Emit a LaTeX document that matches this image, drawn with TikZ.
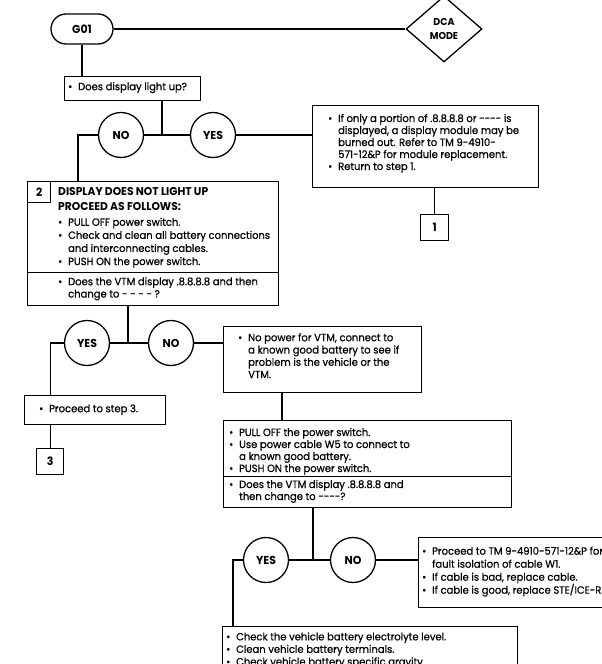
\documentclass[tikz,border=0pt]{standalone}
\usepackage{fontspec}
\setmainfont{Poppins}[FakeStretch=0.95, UprightFeatures={FakeBold=0.6}]
\usetikzlibrary{shapes.geometric}
\newcommand\bul{\makebox[10pt][l]{\textbullet}}
\newcommand\ind{\hspace*{10pt}}
\newcommand\dsh{{-}{-}{-}{-}}
\begin{document}
\begin{tikzpicture}[x=1pt,y=-1pt,
  every node/.style={inner sep=0pt},
  frame/.style={draw, line width=1.3pt, rectangle, anchor=north west},
  lbl/.style={font=\bfseries\fontsize{11.5}{13}\selectfont},
  txt/.style={anchor=north west, align=left, font=\fontsize{10.5}{12.3}\selectfont},
  dec/.style={draw, circle, line width=1.3pt, minimum size=45pt, font=\bfseries\fontsize{11.5}{13}\selectfont},
  con/.style={line width=1.3pt},
]
\useasboundingbox (0,0) rectangle (602,664);
% terminals
\node[draw, line width=1.3pt, rounded corners=15pt, minimum width=62pt, minimum height=30pt, lbl] (g01) at (82,29) {G01};
\node[draw, diamond, line width=1.3pt, minimum width=76pt, minimum height=66pt, align=center, font=\bfseries\fontsize{10}{13.5}\selectfont] (dca) at (444,29) {DCA\\MODE};
% frames
\node[frame, minimum width=136pt, minimum height=24pt] (q1) at (64,76) {};
\node[frame, minimum width=226pt, minimum height=82pt] (s1) at (312,105) {};
\node[frame, minimum width=28pt, minimum height=26pt, lbl, anchor=north west] (box1) at (420,214) {1};
\node[frame, minimum width=251pt, minimum height=91pt] (b2a) at (27,181) {};
\node[frame, minimum width=251pt, minimum height=33pt] (b2b) at (27,272) {};
\node[frame, minimum width=23pt, minimum height=21pt, lbl] (n2) at (27,181) {2};
\node[frame, minimum width=141pt, minimum height=29pt] (p3) at (24,395) {};
\node[frame, minimum width=27pt, minimum height=26pt, lbl] (box3) at (36,448) {3};
\node[frame, minimum width=198pt, minimum height=66pt] (np) at (223,326) {};
\node[frame, minimum width=288pt, minimum height=56pt] (pa) at (223,420) {};
\node[frame, minimum width=288pt, minimum height=31pt] (pb) at (223,476) {};
\node[frame, minimum width=200pt, minimum height=70pt] (tm) at (418,537) {};
\node[frame, minimum width=295pt, minimum height=60pt] (bb) at (222,626) {};
% texts
\node[txt] (tq1) at (68,81.4) {\strut\bul Does display light up?};
\node[txt, font=\fontsize{10.5}{12}\selectfont] (ts1) at (328,113.4) {\strut\bul If only a portion of .8.8.8.8 or \dsh{} is\\
\ind displayed, a display module may be\\
\ind burned out. Refer to TM 9-4910-\\
\ind 571-12\&P for module replacement.\\
\bul Return to step 1.};
\node[txt, font=\bfseries\fontsize{11.3}{14.5}\selectfont] (tb2h) at (58,185.4) {\strut DISPLAY DOES NOT LIGHT UP\\PROCEED AS FOLLOWS:};
\node[txt, font=\fontsize{10.5}{13.1}\selectfont] (tb2a) at (58,216.4) {\strut\bul PULL OFF power switch.\\
\bul Check and clean all battery connections\\
\ind and interconnecting cables.\\
\bul PUSH ON the power switch.};
\node[txt] (tb2b) at (58,276.4) {\strut\bul Does the VTM display .8.8.8.8 and then\\
\ind change to - - - - ?};
\node[txt] (tp3) at (39,403.4) {\strut\bul Proceed to step 3.};
\node[txt] (tnp) at (238,332.4) {\strut\bul No power for VTM, connect to\\
\ind a known good battery to see if\\
\ind problem is the vehicle or the\\
\ind VTM.};
\node[txt, font=\fontsize{10.5}{12}\selectfont] (tpa) at (229,427.4) {\strut\bul PULL OFF the power switch.\\
\bul Use power cable W5 to connect to\\
\ind a known good battery.\\
\bul PUSH ON the power switch.};
\node[txt, font=\fontsize{10.5}{12}\selectfont] (tpb) at (229,479.4) {\strut\bul Does the VTM display .8.8.8.8 and\\
\ind then change to \dsh?};
\node[txt, font=\fontsize{10.5}{13}\selectfont] (ttm) at (422,545.4) {\strut\bul Proceed to TM 9-4910-571-12\&P for\\
\ind fault isolation of cable W1.\\
\bul If cable is bad, replace cable.\\
\bul If cable is good, replace STE/ICE-R.};
\node[txt, font=\fontsize{10.5}{12.5}\selectfont] (tbb) at (226,631.4) {\strut\bul Check the vehicle battery electrolyte level.\\
\bul Clean vehicle battery terminals.\\
\bul Check vehicle battery specific gravity.};
% decisions
\node[dec] (no1) at (121,135) {NO};
\node[dec] (yes1) at (213,135) {YES};
\node[dec] (yes2) at (87,343) {YES};
\node[dec] (no2) at (171,343) {NO};
\node[dec] (yes3) at (266,560) {YES};
\node[dec] (no3) at (353,560) {NO};
% coordinates
\coordinate (j1) at (162,135);
\coordinate (b2in) at (78,181);
\coordinate (j2) at (128,343);
\coordinate (c282) at (282,400);
\coordinate (j3) at (313,560);
\coordinate (bbin) at (233,626);
% connectors
\draw[con] (g01.east) -- (dca.west);
\draw[con] (g01.south) -- (g01.south |- q1.north);
\draw[con] (q1.south -| j1) -- (j1);
\draw[con] (no1) -- (yes1);
\draw[con] (no1.west) -| (b2in);
\draw[con] (yes1.east) -- (yes1.east -| s1.west);
\draw[con] (box1.north |- s1.south) -- (box1.north);
\draw[con] (b2b.south -| j2) -- (j2);
\draw[con] (yes2) -- (no2);
\draw[con] (yes2.west) -| (box3.north |- p3.north);
\draw[con] (p3.south -| box3.north) -- (box3.north);
\draw[con] (no2.east) -- (no2.east -| np.west);
\draw[con] (np.south -| c282) -- (pa.north -| c282);
\draw[con] (pb.south -| j3) -- (j3);
\draw[con] (yes3) -- (no3);
\draw[con] (yes3.west) -| (bbin);
\draw[con] (no3.east) -- (no3.east -| tm.west);
\end{tikzpicture}
\end{document}
